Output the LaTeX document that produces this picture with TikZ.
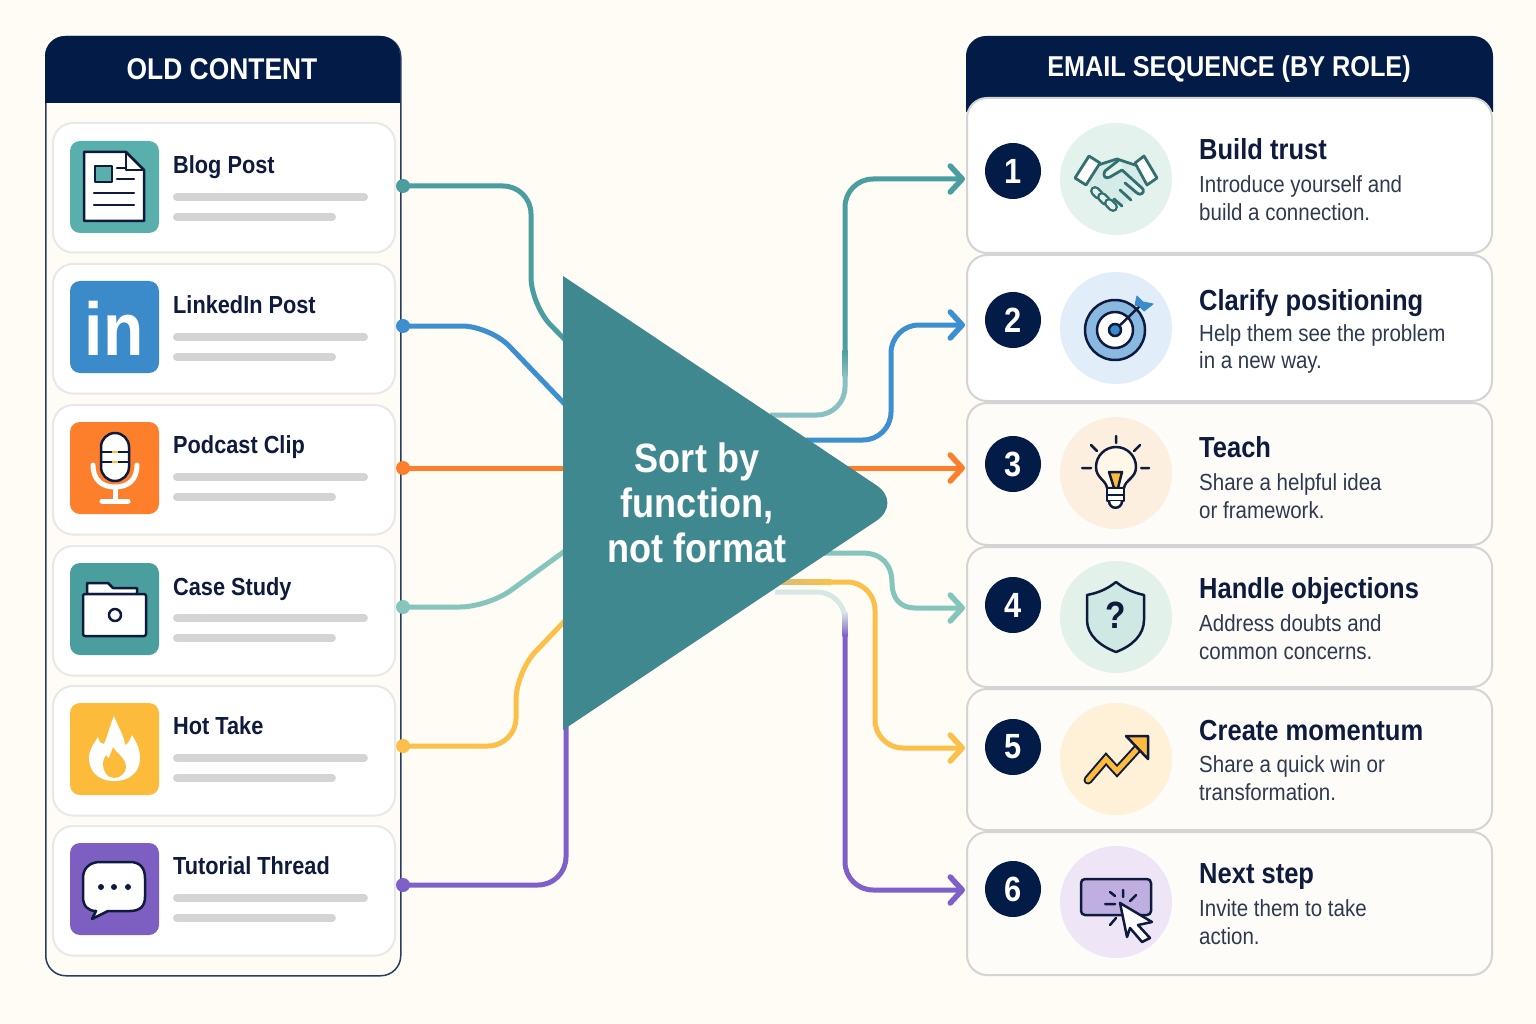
\documentclass[tikz,border=0pt]{standalone}
\usepackage{fontspec}
\setmainfont[FakeStretch=0.88]{Liberation Sans}
\usetikzlibrary{arrows.meta, calc}
\definecolor{paper}{HTML}{FEFCF5}
\definecolor{soft}{HTML}{FDFCF8}
\definecolor{navy}{HTML}{021B47}
\definecolor{ink}{HTML}{0F1B3D}
\definecolor{body}{HTML}{2F3A4E}
\definecolor{prism}{HTML}{408890}
\definecolor{tan}{HTML}{D4BF78}
\definecolor{mist}{HTML}{D6E8E4}
\definecolor{wire1}{HTML}{4A9EA0}
\definecolor{wire2}{HTML}{3D8FCF}
\definecolor{wire3}{HTML}{FD7F2C}
\definecolor{wire4}{HTML}{86C5BC}
\definecolor{wire5}{HTML}{FCC04A}
\definecolor{wire6}{HTML}{7F60C8}
\definecolor{ico1}{HTML}{58AFAC}
\definecolor{ico2}{HTML}{3B8BCB}
\definecolor{ico3}{HTML}{FD7F2C}
\definecolor{ico4}{HTML}{4A9E9D}
\definecolor{ico5}{HTML}{FDBB3C}
\definecolor{ico6}{HTML}{7D5FC2}
\definecolor{halo1}{HTML}{E3F2EC}
\definecolor{halo2}{HTML}{E1EEF9}
\definecolor{halo3}{HTML}{FDEFE0}
\definecolor{halo4}{HTML}{E2F1EA}
\definecolor{halo5}{HTML}{FEF1D8}
\definecolor{halo6}{HTML}{EEE6F7}
\tikzset{panel/.style={
    rectangle,
    rounded corners=20pt,
    draw=navy!85,
    line width=1.5pt,
    fill=paper,
    anchor=north west,
    inner sep=0pt
}}
\tikzset{srccard/.style={
    rectangle,
    rounded corners=20pt,
    draw=black!9,
    line width=2pt,
    fill=white,
    minimum width=342pt,
    minimum height=129.5pt,
    anchor=north west
}}
\tikzset{stepcard/.style={
    rectangle,
    rounded corners=20pt,
    draw=black!17,
    line width=2pt,
    minimum width=525pt,
    anchor=north west
}}
\tikzset{wire/.style={line width=5pt, rounded corners=28pt}}
\tikzset{barbed/.style={-{Straight Barb[length=12pt, width=26pt, line width=5.5pt, round]}}}
\tikzset{stroke/.style={draw=ink, line width=2.5pt, line join=round, line cap=round}}
\tikzset{tealstroke/.style={draw=black!30!wire1, line width=2.8pt, line join=round, line cap=round}}

\begin{document}
\begin{tikzpicture}[x=1pt, y=-1pt]
    \fill[paper] (0,0) rectangle (1536,1024);
    % Panels
    \node[panel, minimum width=355pt, minimum height=939pt] (oldpanel) at (45,36) {};
    \fill[navy] (45,103) [rounded corners=20pt] -- (45,36) -- (400,36) [sharp corners] -- (400,103) -- cycle;
    \fill[navy] (966,112) [rounded corners=20pt] -- (966,36) -- (1493,36) [sharp corners] -- (1493,112) -- cycle;
    \node[text=white, font=\fontsize{30}{34}\selectfont\bfseries] (oldhead) at (222,69) {OLD CONTENT};
    \node[text=white, font=\fontsize{28.7}{34}\selectfont\bfseries] (mailhead) at (1229,69) {EMAIL SEQUENCE (BY ROLE)};

    % Source cards
    \foreach \i/\tp/\iy/\ly/\by/\lbl in {1/122/141/174/197/Blog Post, 2/263/281/313/337/LinkedIn Post,
                                         3/404/422/453/477/Podcast Clip, 4/545/563/595/618/Case Study,
                                         5/685/703/734/758/Hot Take, 6/825/843/874/898/Tutorial Thread} {
        \node[srccard] (src\i) at (52,\tp) {};
        \fill[ico\i, rounded corners=10pt] (70,\iy) rectangle (159,\iy+92);
        \node[anchor=base west, inner sep=0pt, text=ink, font=\fontsize{24.7}{28}\selectfont\bfseries]
            (srclbl\i) at (173,\ly) {\lbl};
        \draw[black!17, line width=8pt, line cap=round] (177,\by) -- (364,\by);
        \draw[black!17, line width=8pt, line cap=round] (177,\by+20) -- (332,\by+20);
    }

    % Step cards
    \foreach \i/\tp/\hgt/\cardfill/\ny/\cy/\ty/\dy/\ttl/\txt in {
        1/97/155/white/171/179/160/198/Build trust/{Introduce yourself and\\build a connection.},
        2/254/146/white/320/328/310/349/Clarify positioning/{Help them see the problem\\in a new way.},
        3/402/142/soft/464/473/457/496/Teach/{Share a helpful idea\\or framework.},
        4/546/140/soft/605/617/598/637/Handle objections/{Address doubts and\\common concerns.},
        5/688/141/soft/747/759/740/778/Create momentum/{Share a quick win or\\transformation.},
        6/831/143/soft/889/902/883/922/Next step/{Invite them to take\\action.}} {
        \node[stepcard, minimum height=\hgt pt, fill=\cardfill] (step\i) at (966,\tp) {};
        \node[circle, fill=navy, minimum size=56pt, inner sep=0pt, text=white,
              font=\fontsize{35}{38}\selectfont\bfseries] (num\i) at (1013,\ny) {\i};
        \node[circle, fill=halo\i, minimum size=112pt, inner sep=0pt] (halo\i) at (1116,\cy) {};
        \node[anchor=base west, inner sep=0pt, text=ink, font=\fontsize{29}{32}\selectfont\bfseries]
            (ttl\i) at (1199,\ty) {\ttl};
        \node[anchor=west, inner sep=0pt, align=left, text=body, font=\fontsize{23.3}{27.5}\selectfont]
            (txt\i) at (1199,\dy) {\txt};
    }

    % Wires into the sorter
    \foreach \i/\y in {1/186, 2/326, 3/468, 4/607, 5/746, 6/885} {
        \node[circle, fill=wire\i, minimum size=14pt, inner sep=0pt] (dot\i) at (403,\y) {};
    }
    \coordinate (in1) at (580,355);
    \coordinate (in2) at (580,420);
    \coordinate (in3) at (580,468);
    \coordinate (in4) at (580,540);
    \coordinate (in5) at (580,605);
    \coordinate (in6) at (566,700);
    \draw[wire, wire1] (dot1.center) -- (531,186) -- (531,305) -- (in1);
    \draw[wire, wire2] (dot2.center) -- (490,326) -- (in2);
    \draw[wire, wire3] (dot3.center) -- (in3);
    \draw[wire, wire4] (dot4.center) -- (488,607) -- (in4);
    \draw[wire, wire5] (dot5.center) -- (516,746) -- (516,672) -- (in5);
    \draw[wire, wire6] (dot6.center) -- (566,885) -- (in6);

    % Wires out of the sorter
    \coordinate (out1) at (770,415);
    \coordinate (out2) at (800,440);
    \coordinate (out3) at (840,468);
    \coordinate (out4) at (820,553);
    \coordinate (out5) at (775,582);
    \coordinate (out6) at (775,592);
    \coordinate (tip1) at (965,179);
    \coordinate (tip2) at (965,325);
    \coordinate (tip3) at (965,468);
    \coordinate (tip4) at (965,608);
    \coordinate (tip5) at (965,748);
    \coordinate (tip6) at (965,890);
    \draw[wire, wire1!65] (out1) -- (845,415) -- (845,375);
    \shade[top color=wire1, bottom color=wire1!65] (842.5,350) rectangle (847.5,376);
    \draw[wire, wire1, barbed] (845,351) -- (845,179) -- (tip1);
    \draw[wire, wire2, barbed] (out2) -- (891,440) -- (891,325) -- (tip2);
    \draw[wire, wire3, barbed] (out3) -- (tip3);
    \draw[line width=5pt, wire4, barbed] (out4) -- (862,553) .. controls (882,553) and (892,565) .. (892,583)
        .. controls (892,598) and (900,608) .. (915,608) -- (tip4);
    \draw[wire, wire5, barbed] (830,582) -- (875,582) -- (875,748) -- (tip5);
    \shade[left color=tan, right color=wire5] (out5) ++(0,-2.5) rectangle (831,584.5);
    \draw[wire, mist] (out6) -- (845,592) -- (845,614);
    \shade[top color=mist, bottom color=wire6] (842.5,612) rectangle (847.5,636);
    \draw[wire, wire6, barbed] (845,635) -- (845,890) -- (tip6);

    % Sorter
    \coordinate (upper) at (563,276);
    \coordinate (nose) at (903,503);
    \coordinate (lower) at (563,730);
    \fill[prism] (upper) [rounded corners=32pt] -- (nose) [sharp corners] -- (lower) -- cycle;
    \node[align=center, text=white, font=\fontsize{41}{45}\selectfont\bfseries] (sorter) at (697,503)
        {Sort by\\function,\\not format};

    % Source icons
    \draw[stroke, fill=white] (84,152) -- (126,152) -- (144,170) -- (144,221) -- (84,221) -- cycle;
    \draw[stroke] (126,152) -- (126,170) -- (144,170);
    \draw[stroke, fill=ico1] (95,166) rectangle (112,182);
    \draw[stroke] (117,168) -- (125,168) (117,179) -- (134,179) (94,193) -- (134,193) (94,205) -- (134,205);

    \node[anchor=base, inner sep=0pt, text=white, font=\fontsize{75}{75}\selectfont\bfseries] (logo) at (114,355) {in};

    \draw[stroke, fill=white, rounded corners=14pt] (101,433) rectangle (129,481);
    \draw[stroke] (101,452) -- (129,452) (101,462) -- (129,462);
    \draw[ico5, line width=2.5pt] (112,452) -- (118,452) (112,462) -- (118,462);
    \draw[white, line width=5pt, line cap=round] (93,465) .. controls (93,480) and (102,487) .. (115,487)
        .. controls (128,487) and (137,480) .. (137,465);
    \draw[white, line width=5pt, line cap=round] (115,487) -- (115,501) (102,501) -- (128,501);

    \draw[stroke, fill=white] (87,594) -- (87,583) -- (108,583) -- (113,588) -- (137,588) -- (137,594) -- cycle;
    \draw[stroke, fill=white, rounded corners=2pt] (83,594) rectangle (146,636);
    \draw[stroke] (115,615) circle[radius=6];

    \fill[white] (114,781) .. controls (97,781) and (89,770) .. (89,758) .. controls (89,750) and (93,745) .. (98,737)
        .. controls (99,742) and (101,744) .. (104,744) .. controls (108,735) and (110,725) .. (114,716)
        .. controls (118,727) and (124,735) .. (125,745) .. controls (128,744) and (130,740) .. (132,735)
        .. controls (137,743) and (140,750) .. (140,758) .. controls (140,771) and (131,781) .. (114,781);
    \fill[ico5] (114,778) .. controls (107,778) and (103,771) .. (103,764) .. controls (103,760) and (105,757) .. (106,755)
        .. controls (107,757) and (108,758) .. (109,758) .. controls (110,754) and (112,751) .. (113,747)
        .. controls (116,753) and (126,758) .. (126,767) .. controls (126,773) and (120,778) .. (114,778);

    \draw[stroke, fill=white] (100,862) -- (130,862) .. controls (140,862) and (145,868) .. (145,878) -- (145,897)
        .. controls (145,906) and (140,911) .. (130,911) -- (108,911) -- (92,919) -- (96,911)
        .. controls (88,911) and (83,906) .. (83,897) -- (83,878) .. controls (83,868) and (90,862) .. (100,862) -- cycle;
    \foreach \x in {101,114,128} {
        \fill[ink] (\x,887) circle[radius=3];
    }

    % Step icons
    \fill[wire4!35] (1100,166) -- (1117,160) -- (1135,165) -- (1146,183) -- (1120,208) -- (1088,186) -- cycle;
    \draw[tealstroke] (1098,165) -- (1117,159) -- (1135,165);
    \draw[tealstroke, fill=halo1] (1119,160) -- (1105,171) .. controls (1102,177) and (1106,179) .. (1110,177)
        -- (1122,170) -- (1143,189) .. controls (1145,193) and (1140,196) .. (1137,193);
    \draw[tealstroke] (1137,193) -- (1125,183) (1131,200) -- (1120,190) (1122,206) -- (1114,199);
    \draw[tealstroke, fill=white] (1075,178) -- (1089,156) -- (1100,163) -- (1086,185) -- cycle;
    \draw[tealstroke, fill=white] (1135,163) -- (1144,156) -- (1157,178) -- (1147,185) -- cycle;
    \foreach \x/\y in {1097/193, 1104/199, 1111/205} {
        \draw[black!30!wire1, line width=10pt, line cap=round] (\x-2,\y-2) -- (\x+2,\y+2);
        \draw[halo1, line width=5pt, line cap=round] (\x-2,\y-2) -- (\x+2,\y+2);
    }

    \draw[stroke, fill=ico2!60] (1115,330) circle[radius=30];
    \draw[stroke, fill=white] (1115,330) circle[radius=18];
    \draw[stroke] (1115,330) -- (1143,303);
    \draw[stroke, fill=ico2] (1115,330) circle[radius=6];
    \draw[draw=ico2, fill=ico2, line width=1pt, line join=round] (1135,305) -- (1137,296) -- (1143,302) -- (1153,304) -- (1144,311) -- (1139,306) -- cycle;

    \draw[stroke] (1116,436) -- (1116,443) (1091,445) -- (1097,451) (1140,445) -- (1134,451)
        (1082,468) -- (1091,468) (1141,468) -- (1149,468);
    \draw[stroke, fill=ico5!12] (1107,488) .. controls (1106,480) and (1096,478) .. (1096,467)
        arc[start angle=180, end angle=360, radius=20] .. controls (1136,478) and (1125,480) .. (1124,488) -- cycle;
    \draw[stroke, fill=ico5] (1109,472) -- (1122,472) -- (1118,488) -- (1114,488) -- cycle;
    \draw[stroke, fill=white] (1107,488) rectangle (1124,501);
    \draw[stroke] (1107,495) -- (1124,495);
    \draw[stroke, fill=white] (1109,501) .. controls (1109,510) and (1122,510) .. (1122,501);

    \draw[stroke, fill=wire4!40] (1116,582) .. controls (1106,590) and (1097,593) .. (1087,595) -- (1087,620)
        .. controls (1087,635) and (1100,646) .. (1116,652) .. controls (1132,646) and (1144,635) .. (1144,620)
        -- (1144,595) .. controls (1135,593) and (1126,590) .. (1116,582) -- cycle;
    \node[text=ink, inner sep=0pt, font=\fontsize{38}{40}\selectfont\bfseries] (query) at (1116,615) {?};

    \draw[ink, line width=9pt, line cap=round, line join=miter] (1088,780) -- (1106,759) -- (1117,771) -- (1138,748);
    \draw[ico5, line width=5pt, line cap=round, line join=miter] (1088,780) -- (1106,759) -- (1117,771) -- (1138,748);
    \draw[stroke, fill=ico5] (1126,736) -- (1148,736) -- (1148,759) -- cycle;

    \draw[stroke, fill=ico6!50, rounded corners=4pt] (1081,879) rectangle (1151,915);
    \draw[stroke] (1123,890) -- (1123,897) (1136,895) -- (1130,901) (1110,892) -- (1115,896)
        (1105,904) -- (1115,904) (1110,925) -- (1116,918);
    \draw[stroke, fill=white] (1120,903) -- (1152,922) -- (1138,925) -- (1150,938) -- (1142,942) -- (1130,928) -- (1127,937) -- cycle;
\end{tikzpicture}
\end{document}
